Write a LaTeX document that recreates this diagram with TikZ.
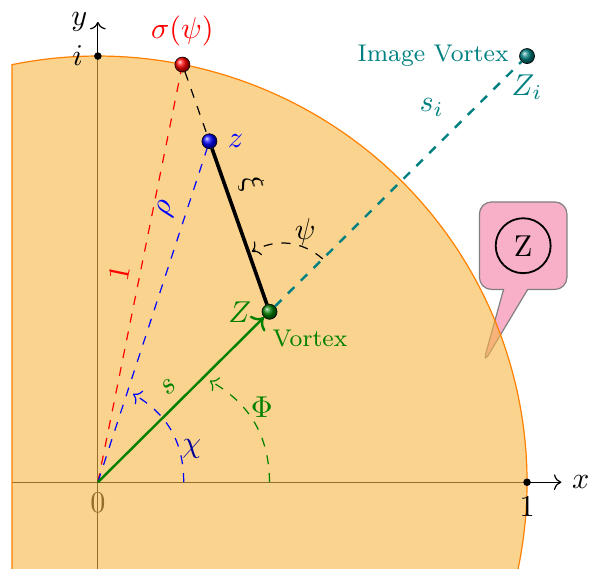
\documentclass[tikz,border=0pt]{standalone}
\usepackage{amsmath,amssymb}
\usetikzlibrary{arrows.meta,positioning,shapes.callouts}
\definecolor{diskc}{RGB}{247,182,68}
\definecolor{notec}{RGB}{248,176,200}
\definecolor{vgreen}{RGB}{0,128,0}
\tikzset{ball/.style={circle,draw=black,very thin,shading=ball,inner sep=0pt,minimum size=5pt},pt/.style={circle,fill=black,inner sep=0pt,minimum size=2.5pt},arr/.style={->},ang/.style={->,dashed}}
\begin{document}
\begin{tikzpicture}[x=5cm,y=4.965cm]
\useasboundingbox(-0.228,-0.202)rectangle(1.163,1.1315);
\coordinate(O)at(0,0);
% note box, under the disk
\node[rectangle callout,draw=gray,fill=notec,rounded corners=4pt,minimum size=29pt,callout pointer width=8pt,callout absolute pointer={(0.897,0.277)}](note)at(0.991,0.555){};
\node[draw,circle,semithick,inner sep=3.2pt](zee)at(note){Z};
% axes
\coordinate(xs)at(-0.2,0);\coordinate(xe)at(1.08,0);\coordinate(ys)at(0,-0.21);\coordinate(ye)at(0,1.08);
\draw[arr](xs)--(xe);\draw[arr](ys)--(ye);
\node[right](xl)at(xe){$x$};\node[left](yl)at(ye){$y$};\node[below](zero)at(O){$0$};
% unit disk
\draw[orange,fill=diskc,fill opacity=0.6](-0.2,-0.22)--(-0.2,0.9798)arc[start angle=101.54,end angle=-12.71,radius=1]--cycle;
\node[pt,label=left:$i$](pi)at(0,1){};\node[pt,label=below:$1$](pone)at(1,0){};
% points
\node[ball,ball color=red,label={[red]above:$\sigma(\psi)$}](S)at(0.197,0.98){};
\node[ball,ball color=blue,label={[blue]right:$z$}](z)at(0.26,0.8){};
\node[ball,ball color=vgreen,label={[vgreen]left:$Z$}](Z)at(0.4,0.4){};
\node[ball,ball color=teal,label={[teal,font=\footnotesize]left:Image Vortex},label={[teal]below:$Z_i$}](Zi)at(1,1){};
\node[vgreen,anchor=north west,font=\footnotesize](vlab)at([xshift=-2.5pt]Z.south){Vortex};
% rays
\draw[red,dashed](O)--node[midway,sloped,above]{$1$}(S);
\draw[blue,dashed](O)--node[pos=0.8,sloped,above]{$\rho$}(z);
\draw[dashed](S)--(z);
\draw[very thick](z)--node[pos=0.28,sloped,above]{$\xi$}(Z);
\draw[vgreen,thick,arr](O)--node[midway,sloped,above]{$s$}(Z);
\draw[teal,thick,dashed](Z)--node[pos=0.73,above left]{$s_i$}(Zi);
% angles
\coordinate(c1)at(0.2,0);\coordinate(c2)at(0.082,0.207);
\coordinate(f1)at(0.4,0);\coordinate(f2)at(0.261,0.238);
\coordinate(p1)at(0.524,0.524);\coordinate(p2)at(0.359,0.541);
\draw[ang,blue,bend right=30](c1)to(c2);
\draw[ang,vgreen,bend right=30](f1)to(f2);
\draw[ang,bend right=35](p1)to(p2);
\node[blue!60!black](chi)at(0.219,0.079){$\chi$};
\node[vgreen](phi)at(0.382,0.175){$\Phi$};
\node(psi)at(0.483,0.587){$\psi$};
\end{tikzpicture}
\end{document}
